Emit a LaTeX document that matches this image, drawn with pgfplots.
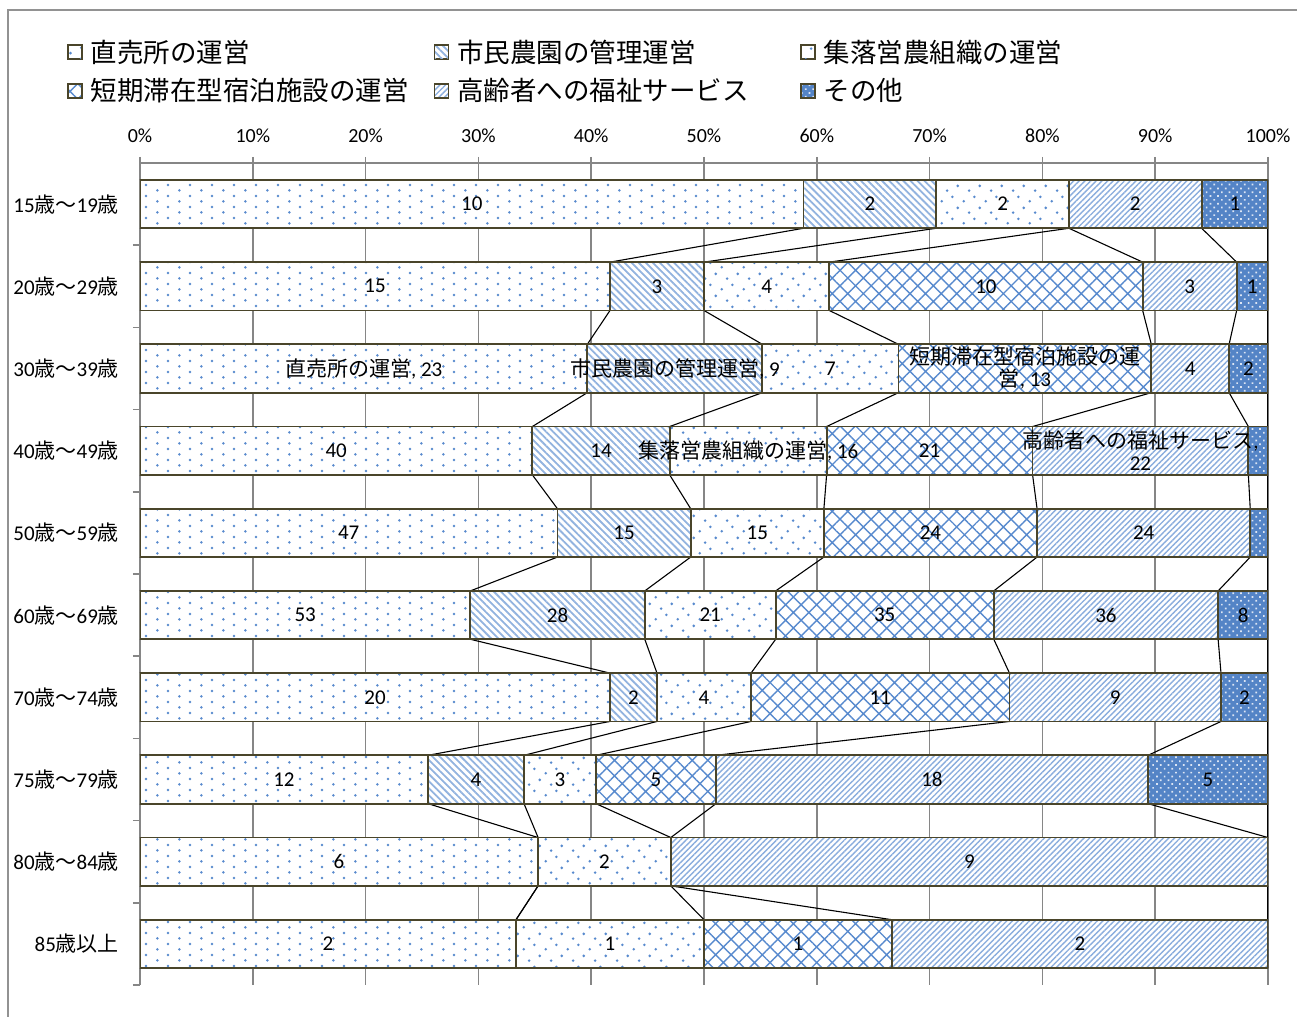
\documentclass[border=0pt]{standalone}
\usepackage{fontspec}
\setmainfont{Carlito}
\newfontfamily\jp{Noto Sans CJK JP}
\usepackage{pgfplots}
\usepackage{pgfplotstable}
\pgfplotsset{compat=1.18}
\usetikzlibrary{patterns.meta}

\definecolor{barline}{RGB}{74,69,42}
\definecolor{gridgray}{RGB}{134,134,134}
\definecolor{patblue}{RGB}{88,138,206}
\definecolor{otherblue}{RGB}{84,132,198}

% sparse staggered dots (5%) and a slightly denser variant (10%)
\tikzdeclarepattern{name=dotsfive, type=uncolored,
  bounding box={(0pt,0pt) and (10.85pt,5.4pt)},
  tile size={(10.85pt,5.4pt)},
  code={\fill (2.7pt,1.35pt) circle (0.72pt); \fill (8.12pt,4.05pt) circle (0.72pt);}}
\tikzdeclarepattern{name=dotsten, type=uncolored,
  bounding box={(0pt,0pt) and (10.85pt,10.85pt)},
  tile size={(10.85pt,10.85pt)},
  code={\fill (1.4pt,1.4pt) circle (0.72pt); \fill (6.8pt,3.6pt) circle (0.72pt);
        \fill (4.1pt,6.8pt) circle (0.72pt); \fill (9.5pt,9.2pt) circle (0.72pt);}}

% counts per age group: a 直売所, b 市民農園, c 集落営農, d 短期滞在, e 高齢者福祉, f その他
\pgfplotstableread[col sep=semicolon]{
y;tot;a;b;c;d;e;f;la;lb;lc;ld;le;lf
9;17;10;2;2;0;2;1;10;2;2;{};2;1
8;36;15;3;4;10;3;1;15;3;4;10;3;1
7;58;23;9;7;13;4;2;{\jp 直売所の運営}, 23;{\jp 市民農園の管理運営}, 9;7;{\jp 短期滞在型宿泊施設の運}\\{\jp 営}, 13;4;2
6;115;40;14;16;21;22;2;40;14;{\jp 集落営農組織の運営}, 16;21;{\jp 高齢者への福祉サービス},\\22;2
5;127;47;15;15;24;24;2;47;15;15;24;24;2
4;181;53;28;21;35;36;8;53;28;21;35;36;8
3;48;20;2;4;11;9;2;20;2;4;11;9;2
2;47;12;4;3;5;18;5;12;4;3;5;18;5
1;17;6;0;2;0;9;0;6;{};2;{};9;{}
0;6;2;0;1;1;2;0;2;{};1;1;2;{}
}\data

% same counts at the top and bottom edge of each bar, for the series lines
\pgfplotstableread{
yy tot a b c d e
9.294 17 10 2 2 0 2
8.706 17 10 2 2 0 2
8.294 36 15 3 4 10 3
7.706 36 15 3 4 10 3
7.294 58 23 9 7 13 4
6.706 58 23 9 7 13 4
6.294 115 40 14 16 21 22
5.706 115 40 14 16 21 22
5.294 127 47 15 15 24 24
4.706 127 47 15 15 24 24
4.294 181 53 28 21 35 36
3.706 181 53 28 21 35 36
3.294 48 20 2 4 11 9
2.706 48 20 2 4 11 9
2.294 47 12 4 3 5 18
1.706 47 12 4 3 5 18
1.294 17 6 0 2 0 9
0.706 17 6 0 2 0 9
0.294 6 2 0 1 1 2
-0.294 6 2 0 1 1 2
}\lines

\pgfplotsset{
  frame/.style={width=564pt, height=411pt, scale only axis,
    xmin=0, xmax=100, ymin=-0.5, ymax=9.5},
}

\begin{document}
\begin{tikzpicture}
\path[use as bounding box] (-70pt,-16pt) rectangle (578.5pt,492.5pt);
\draw[gridgray!90, line width=1pt] (-66pt,-40pt) rectangle (620pt,487.5pt);

% grid, ticks and series lines
\begin{axis}[frame,
  axis x line=top, axis y line=left, axis line style={-, gridgray, line width=0.8pt},
  tick align=outside,
  xtick={0,10,...,100}, major tick length=3pt,
  xmajorgrids, grid style={gridgray, line width=0.8pt},
  tick style={gridgray, line width=0.8pt},
  /pgf/number format/assume math mode=true,
  xticklabel={\pgfmathprintnumber{\tick}\%},
  xticklabel style={font=\fontsize{10}{12}\selectfont, yshift=3.5pt},
  ytick={0,...,9},
  yticklabels={85{\jp 歳以上}, 80{\jp 歳～}84{\jp 歳}, 75{\jp 歳～}79{\jp 歳},
    70{\jp 歳～}74{\jp 歳}, 60{\jp 歳～}69{\jp 歳}, 50{\jp 歳～}59{\jp 歳},
    40{\jp 歳～}49{\jp 歳}, 30{\jp 歳～}39{\jp 歳}, 20{\jp 歳～}29{\jp 歳},
    15{\jp 歳～}19{\jp 歳}},
  yticklabel style={font=\fontsize{10.5}{12}\selectfont, xshift=-4pt},
  major y tick style={draw=none},
  minor ytick={-0.5,0.5,...,8.5}, minor tick length=3.5pt,
]
\addplot[black, line width=0.55pt] table[y=yy, x expr=\thisrow{a}/\thisrow{tot}*100] {\lines};
\addplot[black, line width=0.55pt] table[y=yy, x expr=(\thisrow{a}+\thisrow{b})/\thisrow{tot}*100] {\lines};
\addplot[black, line width=0.55pt] table[y=yy, x expr=(\thisrow{a}+\thisrow{b}+\thisrow{c})/\thisrow{tot}*100] {\lines};
\addplot[black, line width=0.55pt] table[y=yy, x expr=(\thisrow{a}+\thisrow{b}+\thisrow{c}+\thisrow{d})/\thisrow{tot}*100] {\lines};
\addplot[black, line width=0.55pt] table[y=yy, x expr=(\thisrow{a}+\thisrow{b}+\thisrow{c}+\thisrow{d}+\thisrow{e})/\thisrow{tot}*100] {\lines};
\addplot[black, line width=0.55pt] table[y=yy, x expr=100] {\lines};
\end{axis}

% the stacked bars
\begin{axis}[frame, hide axis,
  xbar stacked, bar width=0.588,
  every axis plot post/.append style={
    legend image code/.code={\draw[##1, line width=0.8pt] (0pt,-3.5pt) rectangle (7pt,3.5pt);}},
  point meta=explicit symbolic,
  nodes near coords,
  every node near coord/.append style={font=\fontsize{10.5}{11}\selectfont,
    text=black, align=center},
  legend columns=3,
  legend style={at={(-0.065,1.1505)}, anchor=north west, draw=none, fill=none,
    inner sep=0pt, column sep=0pt, row sep=6.5pt, nodes={inner sep=0pt},
    font=\jp\fontsize{13.25}{14}\selectfont},
  legend cell align=left,
]
\addplot[draw=barline, line width=0.9pt, preaction={fill=white}, pattern=dotsfive, pattern color=patblue]
  table[y=y, x expr=\thisrow{a}/\thisrow{tot}*100, meta=la] {\data};
\addlegendentry{\hspace{4pt}\makebox[171.5pt][l]{直売所の運営}}
\addplot[draw=barline, line width=0.9pt, preaction={fill=white}, pattern={Lines[angle=-45, distance=2.5pt, line width=0.9pt]}, pattern color=patblue!65!white]
  table[y=y, x expr=\thisrow{b}/\thisrow{tot}*100, meta=lb] {\data};
\addlegendentry{\hspace{4pt}\makebox[171.5pt][l]{市民農園の管理運営}}
\addplot[draw=barline, line width=0.9pt, preaction={fill=white}, pattern=dotsten, pattern color=patblue]
  table[y=y, x expr=\thisrow{c}/\thisrow{tot}*100, meta=lc] {\data};
\addlegendentry{\hspace{4pt}\makebox[171.5pt][l]{集落営農組織の運営}}
\addplot[draw=barline, line width=0.9pt, preaction={fill=white}, pattern={Hatch[angle=45, distance=5.5pt, line width=0.7pt]}, pattern color=patblue]
  table[y=y, x expr=\thisrow{d}/\thisrow{tot}*100, meta=ld] {\data};
\addlegendentry{\hspace{4pt}\makebox[171.5pt][l]{短期滞在型宿泊施設の運営}}
\addplot[draw=barline, line width=0.9pt, preaction={fill=white}, pattern={Lines[angle=45, distance=2pt, line width=0.7pt]}, pattern color=patblue!70!white]
  table[y=y, x expr=\thisrow{e}/\thisrow{tot}*100, meta=le] {\data};
\addlegendentry{\hspace{4pt}\makebox[171.5pt][l]{高齢者への福祉サービス}}
\addplot[draw=barline, line width=0.9pt, preaction={fill=otherblue}, pattern={Dots[angle=45, distance=2.7pt, radius=0.6pt]}, pattern color=white!80!otherblue]
  table[y=y, x expr=\thisrow{f}/\thisrow{tot}*100, meta=lf] {\data};
\addlegendentry{\hspace{4pt}\makebox[171.5pt][l]{その他}}
\end{axis}
\end{tikzpicture}
\end{document}
